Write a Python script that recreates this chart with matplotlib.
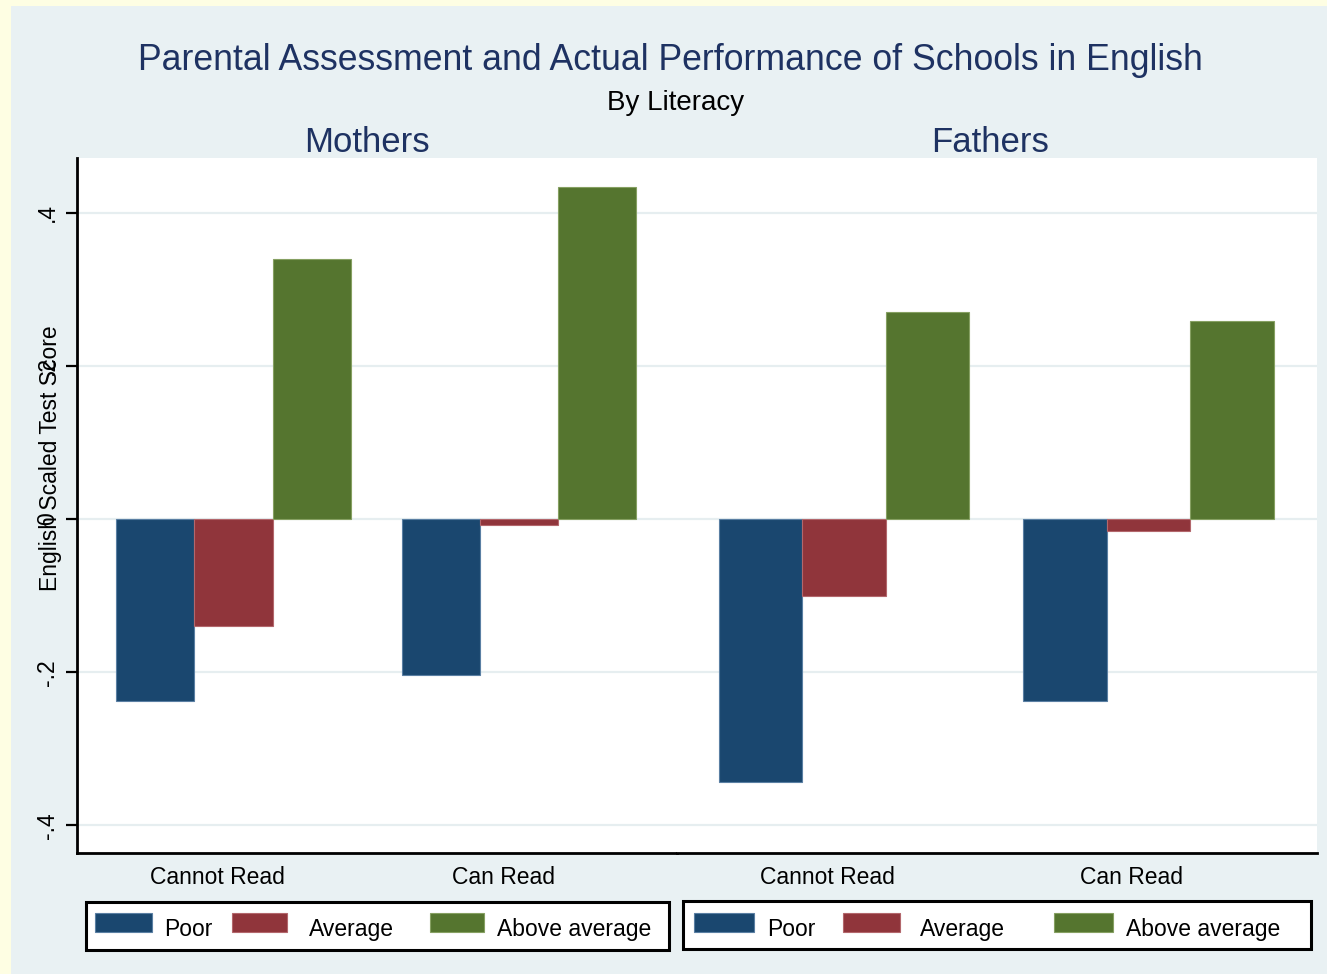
import matplotlib
matplotlib.use('Agg')
import matplotlib.pyplot as plt
from matplotlib.patches import Rectangle

plt.rcParams['font.family'] = ['Liberation Sans', 'DejaVu Sans']

# values
panels = ['Mothers', 'Fathers']
literacy = ['Cannot Read', 'Can Read']
ratings = ['Poor', 'Average', 'Above average']
mothers_poor = [-0.238, -0.203]
mothers_average = [-0.140, -0.008]
mothers_above = [0.340, 0.434]
fathers_poor = [-0.343, -0.238]
fathers_average = [-0.101, -0.016]
fathers_above = [0.270, 0.259]
yticks = [-0.4, -0.2, 0, 0.2, 0.4]
yticklabels = ['-.4', '-.2', '0', '.2', '.4']

colors = ['#1a476f', '#90353b', '#55752f']
edges = ['#5a7fa3', '#b3676c', '#86a062']
title_col = '#1e3262'
grid_col = '#e6eef0'

W, H = 1327, 974
fig = plt.figure(figsize=(W / 100, H / 100), dpi=100)
fig.patch.set_facecolor('#fefee3')


def fx(px):
    return px / W


def fy(py):
    return 1 - py / H


# inner graph region
fig.add_artist(Rectangle((fx(11), 0), 1, fy(6), transform=fig.transFigure,
                         facecolor='#e9f1f3', edgecolor='none', zorder=0))

fig.text(fx(670), fy(70), 'Parental Assessment and Actual Performance of Schools in English',
         ha='center', va='baseline', fontsize=25.7, color=title_col)
fig.text(fx(676), fy(110), 'By Literacy', ha='center', va='baseline', fontsize=20)

# left, right pixel edges of each plot region
regions = [(77, 677), (677, 1317)]
titles_x = [367, 990]
data = [[mothers_poor, mothers_average, mothers_above],
        [fathers_poor, fathers_average, fathers_above]]
group_step = 3.65

legend_boxes = [(86, 902, 669, 950), (683, 901, 1311, 949)]
swatch_x = [[(95, 152), (232, 287), (430, 484)],
            [(694, 754), (843, 900), (1054, 1113)]]
text_x = [[164, 309, 497], [767, 920, 1126]]

for p, name in enumerate(panels):
    x0, x1 = regions[p]
    ax = fig.add_axes([fx(x0), fy(853), fx(x1 - x0), fy(158) - fy(853)])
    ax.set_facecolor('white')
    ax.set_xlim(0, 7.67)
    ax.set_ylim(-0.436, 0.4713)
    for y in yticks:
        ax.axhline(y, color=grid_col, lw=1.6, zorder=1)
    for s in range(3):
        xs = [0.5 + g * group_step + s + 0.5 for g in range(len(literacy))]
        ax.bar(xs, data[p][s], width=1.0, color=colors[s], edgecolor=edges[s],
               linewidth=0.8, zorder=2)
    ax.set_xticks([0.5 + g * group_step + 1.3 for g in range(len(literacy))])
    ax.set_xticklabels(literacy, fontsize=16.5)
    ax.tick_params(axis='x', length=0, pad=9)
    for sp in ['top', 'right']:
        ax.spines[sp].set_visible(False)
    ax.spines['bottom'].set_linewidth(2.0)
    if p == 0:
        ax.spines['left'].set_linewidth(2.0)
        ax.set_yticks(yticks)
        ax.set_yticklabels(yticklabels, fontsize=16.5, rotation=90, va='center')
        ax.tick_params(axis='y', length=8, width=1.6, pad=5)
    else:
        ax.spines['left'].set_visible(False)
        ax.set_yticks([])
    fig.text(fx(titles_x[p]), fy(152), name, ha='center', va='baseline',
             fontsize=25, color=title_col)

    # legend for each panel
    lx0, ly0, lx1, ly1 = legend_boxes[p]
    fig.add_artist(Rectangle((fx(lx0), fy(ly1)), fx(lx1 - lx0), fy(ly0) - fy(ly1),
                             transform=fig.transFigure, facecolor='white',
                             edgecolor='black', linewidth=2.2, zorder=3))
    for s, lab in enumerate(ratings):
        sx0, sx1 = swatch_x[p][s]
        fig.add_artist(Rectangle((fx(sx0), fy(932)), fx(sx1 - sx0), fy(913) - fy(932),
                                 transform=fig.transFigure, facecolor=colors[s],
                                 edgecolor=edges[s], linewidth=0.8, zorder=4))
        fig.text(fx(text_x[p][s]), fy(936), lab, ha='left', va='baseline',
                 fontsize=16.5, zorder=5)

# the reference draws the axis title over the tick labels
fig.text(fx(50), fy(458), 'English Scaled Test Score', rotation=90,
         ha='center', va='center', fontsize=16.5)

fig.savefig('out.png', dpi=100, facecolor=fig.get_facecolor())
